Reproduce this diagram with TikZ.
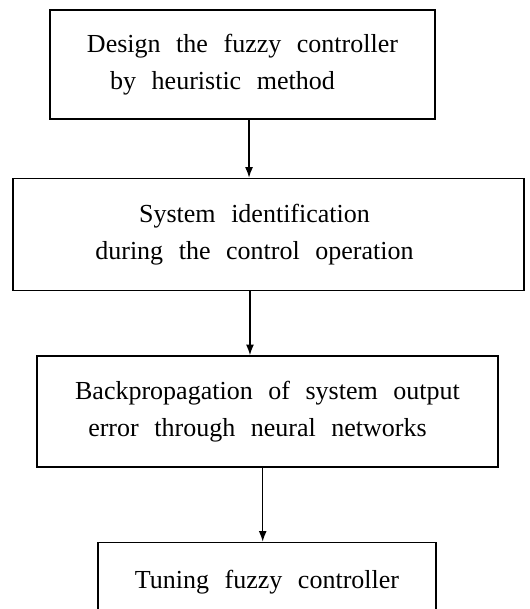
\documentclass[tikz,border=0pt]{standalone}
\usepackage{fontspec}
\setmainfont{Liberation Serif}[WordSpace=2.4]
\usetikzlibrary{arrows.meta,positioning}

\begin{document}
\begin{tikzpicture}[
x=0.75pt, y=-0.75pt,
node distance = 43.5pt,
box/.style = {draw, line width=1.1pt, inner sep=0pt, align=center,
              font=\fontsize{19.5}{27.75}\selectfont},
arr/.style = {-{Latex[length=8pt,width=6pt]}, line width=1pt}
                        ]
\path[use as bounding box, clip] (0,0) rectangle (529,609);
%
\node (design) [box, minimum width=288.75pt, minimum height=81.75pt] at (242.5,64.5)
    {Design the fuzzy controller\\by heuristic method\hspace*{30pt}};
\node (ident)  [box, minimum width=383.25pt, minimum height=84pt,
                below=of design, xshift=19.5pt]
    {System identification\hspace*{21pt}\\during the control operation\hspace*{21pt}};
\node (backprop) [box, minimum width=345.75pt, minimum height=83.25pt,
                below=48pt of ident, xshift=-0.75pt]
    {Backpropagation of system output\\error through neural networks\hspace*{15pt}};
\node (tuning) [box, minimum width=253.5pt, minimum height=60pt,
                below=55.5pt of backprop, xshift=-0.4pt]
    {Tuning fuzzy controller};
%
\draw[arr] ([xshift=4.9pt]design.south) -- ([xshift=4.9pt]design.south |- ident.north);
\draw[arr] ([xshift=-13.9pt]ident.south) -- ([xshift=-13.9pt]ident.south |- backprop.north);
\draw[arr] ([xshift=-3.6pt]backprop.south) -- ([xshift=-3.6pt]backprop.south |- tuning.north);
\end{tikzpicture}
\end{document}
